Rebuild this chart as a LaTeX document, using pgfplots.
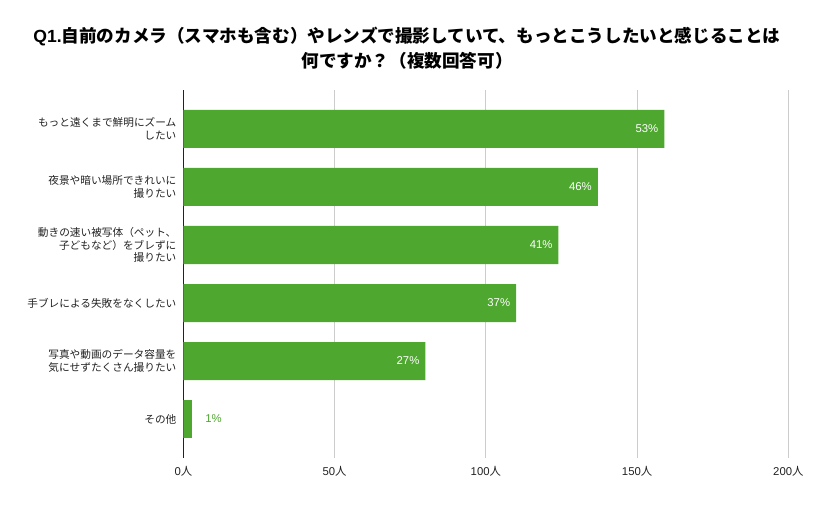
\documentclass[border=0pt]{standalone}
\usepackage{fontspec}
\usepackage{pgfplots}
\pgfplotsset{compat=1.18}
\setmainfont{Liberation Sans}
\newfontfamily\cjk{Noto Sans CJK JP}
\definecolor{bargreen}{HTML}{4EA72E}
\definecolor{txt}{HTML}{222222}
\begin{document}
\begin{tikzpicture}
  % page = 814 x 504 px at 0.75pt per px
  \path[use as bounding box] (0,0) rectangle (610.5pt,378pt);
  \node[font=\bfseries\cjk\fontsize{13.2}{15}\selectfont, text=black, inner sep=0pt]
    at (305.25pt,350.25pt) {{\rmfamily\bfseries Q1.}自前のカメラ（スマホも含む）やレンズで撮影していて、もっとこうしたいと感じることは};
  \node[font=\bfseries\cjk\fontsize{13.2}{15}\selectfont, text=black, inner sep=0pt]
    at (305.25pt,332.6pt) {何ですか？（複数回答可）};
  \begin{axis}[
    at={(137.5pt,34.5pt)}, anchor=south west,
    scale only axis,
    width=453.75pt, height=276pt,
    xbar, bar width=28.5pt, bar shift=0pt,
    xmin=0, xmax=200,
    ymin=-0.672, ymax=5.672,
    y dir=reverse,
    enlargelimits=false,
    axis lines=left,
    x axis line style={draw=none},
    y axis line style={draw=txt, line width=0.8pt, -},
    major tick length=0pt,
    xtick={0,50,100,150,200},
    xticklabels={0{\cjk 人},50{\cjk 人},100{\cjk 人},150{\cjk 人},200{\cjk 人}},
    xticklabel style={font=\fontsize{8.5}{10}\selectfont, text=txt, inner sep=0pt, yshift=-6pt},
    ytick={0,1,2,3,4,5},
    yticklabels={
      {もっと遠くまで鮮明にズーム\\したい},
      {夜景や暗い場所できれいに\\撮りたい},
      {動きの速い被写体（ペット、\\子どもなど）をブレずに\\撮りたい},
      {手ブレによる失敗をなくしたい},
      {写真や動画のデータ容量を\\気にせずたくさん撮りたい},
      {その他}},
    yticklabel style={font=\cjk\fontsize{8}{9.4}\selectfont, text=txt, align=right, inner sep=0pt, xshift=-5pt},
    xmajorgrids,
    grid style={draw=black!20, line width=0.6pt},
    axis on top=false,
    point meta=explicit symbolic,
    nodes near coords,
  ]
  \addplot[fill=bargreen, draw=none,
    nodes near coords style={font=\fontsize{8.5}{10}\selectfont, text=white, anchor=east, inner sep=0pt, xshift=-4.3pt}]
    coordinates {
      (159,0) [53\%]
      (137,1) [46\%]
      (124,2) [41\%]
      (110,3) [37\%]
      (80,4)  [27\%]
    };
  \addplot[fill=bargreen, draw=none,
    nodes near coords style={font=\fontsize{8.5}{10}\selectfont, text=bargreen, anchor=west, inner sep=0pt, xshift=9.5pt}]
    coordinates {
      (3,5) [1\%]
    };
  \end{axis}
\end{tikzpicture}
\end{document}
